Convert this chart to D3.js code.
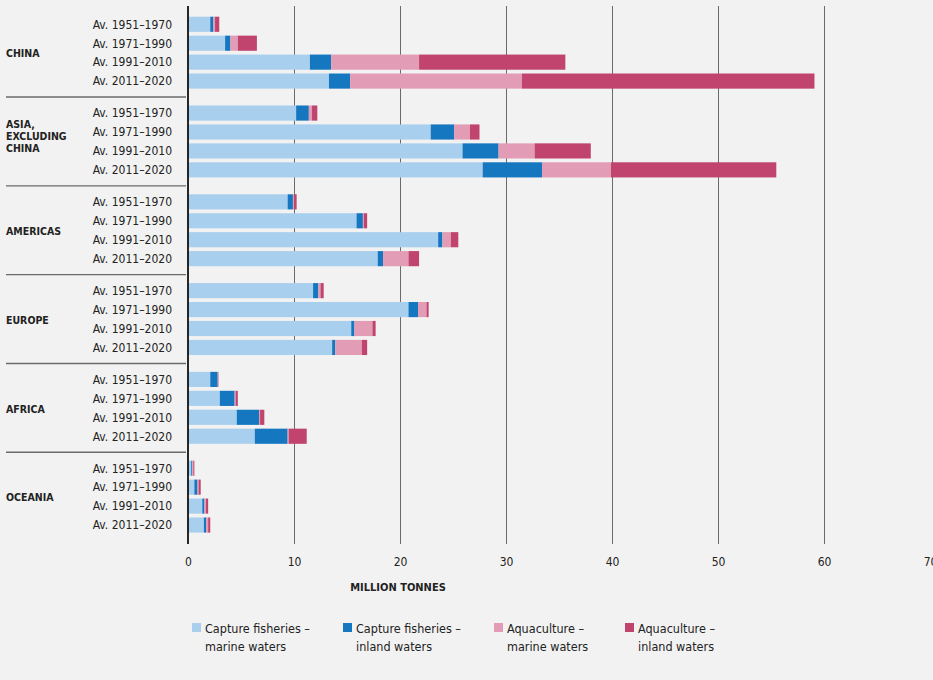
<!DOCTYPE html>
<html>
<head>
<meta charset="utf-8">
<script src="https://cdn.jsdelivr.net/npm/d3@7"></script>
<style>
  body { margin: 0; background: #f2f2f2; }
  svg { display: block; }
  text { font-family: "Liberation Sans Narrow", "DejaVu Sans Condensed", "Roboto", sans-serif; fill: #222; }
</style>
</head>
<body>
<div id="wrapper"></div>
<script>
// data (million tonnes)
const regions = ["CHINA", "ASIA, EXCLUDING CHINA", "AMERICAS", "EUROPE", "AFRICA", "OCEANIA"]
const regionLines = [["CHINA"], ["ASIA,", "EXCLUDING", "CHINA"], ["AMERICAS"], ["EUROPE"], ["AFRICA"], ["OCEANIA"]]
const periods = ["Av. 1951–1970", "Av. 1971–1990", "Av. 1991–2010", "Av. 2011–2020"]

// one row per region, one value per period
const captureMarine = [
  [2.1, 3.5, 11.5, 13.3],
  [10.2, 22.9, 25.9, 27.8],
  [9.4, 15.9, 23.6, 17.9],
  [11.8, 20.8, 15.4, 13.6],
  [2.1, 3.0, 4.6, 6.3],
  [0.3, 0.6, 1.35, 1.5]
]
const captureInland = [
  [0.3, 0.5, 2.0, 2.0],
  [1.2, 2.2, 3.4, 5.6],
  [0.5, 0.6, 0.4, 0.5],
  [0.5, 0.9, 0.3, 0.3],
  [0.7, 1.4, 2.1, 3.1],
  [0.1, 0.3, 0.2, 0.2]
]
const aquaMarine = [
  [0.15, 0.7, 8.3, 16.2],
  [0.3, 1.5, 3.4, 6.5],
  [0.1, 0.1, 0.8, 2.4],
  [0.2, 0.8, 1.7, 2.5],
  [0.02, 0.1, 0.1, 0.1],
  [0.1, 0.1, 0.15, 0.2]
]
const aquaInland = [
  [0.4, 1.8, 13.8, 27.6],
  [0.5, 0.9, 5.3, 15.6],
  [0.25, 0.3, 0.7, 1.0],
  [0.3, 0.2, 0.3, 0.5],
  [0.05, 0.2, 0.4, 1.7],
  [0.1, 0.2, 0.2, 0.2]
]
const xTicks = [0, 10, 20, 30, 40, 50, 60, 70]
const seriesKeys = ["cm", "ci", "am", "ai"]
const seriesNames = [
  ["Capture fisheries –", "marine waters"],
  ["Capture fisheries –", "inland waters"],
  ["Aquaculture –", "marine waters"],
  ["Aquaculture –", "inland waters"]
]
const colors = ["#a9cfee", "#1677c1", "#e29cb5", "#c1446f"]

// build rows for the stack
const rows = []
regions.forEach((r, i) => {
  periods.forEach((p, j) => {
    rows.push({
      region: r, period: p,
      cm: captureMarine[i][j], ci: captureInland[i][j],
      am: aquaMarine[i][j], ai: aquaInland[i][j]
    })
  })
})

const dim = { width: 933, height: 680 }
const x0 = 188, axisY = 544, gridTop = 6

const svg = d3.select("#wrapper").append("svg")
  .attr("width", dim.width)
  .attr("height", dim.height)

// scales
const x = d3.scaleLinear().domain([0, 70]).range([x0, 930])
const yGroup = d3.scaleBand().domain(regions).range([14.8, 534.5]).paddingInner(0.147)
const yRow = d3.scaleBand().domain(periods).range([0, yGroup.bandwidth()])
  .paddingInner(0.2).paddingOuter(0.1)

// gridlines + tick labels
const axis = d3.axisBottom(x)
  .tickValues(xTicks)
  .tickSize(-(axisY - gridTop))
  .tickPadding(13)
  .tickFormat(d3.format("d"))
const ax = svg.append("g")
  .attr("transform", `translate(0,${axisY})`)
  .call(axis)
ax.select(".domain").remove()
ax.selectAll(".tick line")
  .attr("stroke", "#5a5a5a")
  .attr("stroke-width", 0.9)
  .filter(d => d === 0 || d === 70).remove()
ax.selectAll(".tick text")
  .attr("font-size", 12)
  .attr("fill", "#333")
  .style("font-family", "'Liberation Sans Narrow', 'DejaVu Sans Condensed', sans-serif")

// stacked bars
const stack = d3.stack().keys(seriesKeys)
const layers = stack(rows)
svg.append("g")
  .selectAll("g")
  .data(layers)
  .join("g")
  .attr("fill", (d, i) => colors[i])
  .selectAll("rect")
  .data(d => d)
  .join("rect")
  .attr("x", d => x(d[0]))
  .attr("width", d => Math.max(0, x(d[1]) - x(d[0])))
  .attr("y", d => yGroup(d.data.region) + yRow(d.data.period))
  .attr("height", yRow.bandwidth())

// zero axis line
svg.append("line")
  .attr("x1", x(0)).attr("x2", x(0))
  .attr("y1", gridTop).attr("y2", axisY)
  .attr("stroke", "#111")
  .attr("stroke-width", 1.8)

// group separators
const sepGap = (yGroup.step() - yGroup.bandwidth()) / 2
svg.append("g")
  .selectAll("line")
  .data(regions.slice(1))
  .join("line")
  .attr("x1", 6).attr("x2", 186)
  .attr("y1", d => yGroup(d) - sepGap)
  .attr("y2", d => yGroup(d) - sepGap)
  .attr("stroke", "#6a6a6a")
  .attr("stroke-width", 1.4)

// period labels
regions.forEach(r => {
  svg.append("g")
    .selectAll("text")
    .data(periods)
    .join("text")
    .attr("x", 172)
    .attr("y", p => yGroup(r) + yRow(p) + yRow.bandwidth() / 2)
    .attr("dy", "0.36em")
    .attr("text-anchor", "end")
    .attr("font-size", 12)
    .attr("fill", "#333")
    .text(p => p)
})

// region labels
regions.forEach((r, i) => {
  const lines = regionLines[i]
  const cy = yGroup(r) + yGroup.bandwidth() / 2 - (lines.length > 1 ? 5 : -1)
  svg.append("text")
    .attr("font-size", 10.5)
    .attr("font-weight", "bold")
    .attr("fill", "#111")
    .selectAll("tspan")
    .data(lines)
    .join("tspan")
    .attr("x", 6)
    .attr("y", (l, k) => cy + (k - (lines.length - 1) / 2) * 12)
    .attr("dy", "0.36em")
    .text(l => l)
})

// axis title
svg.append("text")
  .attr("x", 398).attr("y", 587)
  .attr("dy", "0.36em")
  .attr("text-anchor", "middle")
  .attr("font-size", 11)
  .attr("font-weight", "bold")
  .attr("fill", "#111")
  .text("MILLION TONNES")

// legend
const legendX = [192, 343, 494, 625]
const legend = svg.append("g")
  .selectAll("g")
  .data(seriesNames)
  .join("g")
  .attr("transform", (d, i) => `translate(${legendX[i]},623)`)
legend.append("rect")
  .attr("width", 9).attr("height", 9)
  .attr("fill", (d, i) => colors[i])
legend.append("text")
  .attr("font-size", 12.5)
  .attr("fill", "#222")
  .selectAll("tspan")
  .data(d => d)
  .join("tspan")
  .attr("x", 13)
  .attr("y", (l, k) => 5 + k * 18.5)
  .attr("dy", "0.36em")
  .text(l => l)
</script>
</body>
</html>
